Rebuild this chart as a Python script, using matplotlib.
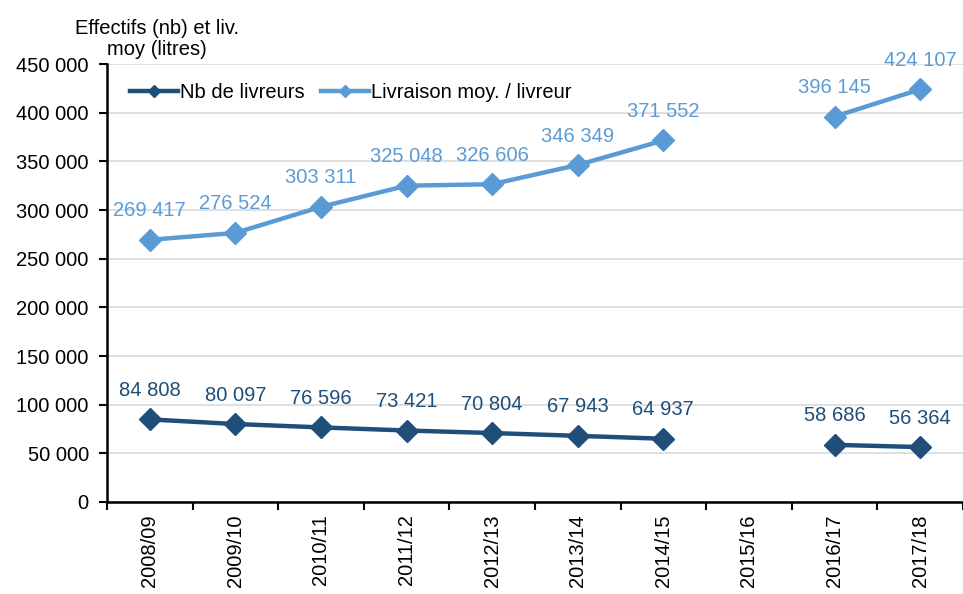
import matplotlib
matplotlib.use("Agg")
import matplotlib.pyplot as plt
import numpy as np
from matplotlib.ticker import FuncFormatter

plt.rcParams['font.family'] = ['Liberation Sans', 'DejaVu Sans']

categories = ["2008/09", "2009/10", "2010/11", "2011/12", "2012/13", "2013/14",
              "2014/15", "2015/16", "2016/17", "2017/18"]
nb_livreurs = [84808, 80097, 76596, 73421, 70804, 67943, 64937, np.nan, 58686, 56364]
livraison_moy = [269417, 276524, 303311, 325048, 326606, 346349, 371552, np.nan, 396145, 424107]

dark = "#1F4E79"
light = "#5B9BD5"
FS = 14.5

fig = plt.figure(figsize=(9.63, 5.94), dpi=100)
ax = fig.add_axes([0.111, 0.155, 0.889, 0.737])

x = np.arange(len(categories))
ax.plot(x, nb_livreurs, color=dark, lw=3.2, marker="D", ms=11, label="Nb de livreurs", zorder=3)
ax.plot(x, livraison_moy, color=light, lw=3.2, marker="D", ms=11, label="Livraison moy. / livreur", zorder=3)

fmt = lambda v: f"{int(v):,}".replace(",", " ")
for xi, v in zip(x, nb_livreurs):
    if not np.isnan(v):
        ax.annotate(fmt(v), (xi, v), xytext=(0, 14), textcoords="offset points",
                    ha="center", va="bottom", color=dark, fontsize=FS)
for xi, v in zip(x, livraison_moy):
    if not np.isnan(v):
        ax.annotate(fmt(v), (xi, v), xytext=(0, 14), textcoords="offset points",
                    ha="center", va="bottom", color=light, fontsize=FS)

ax.set_xlim(-0.5, len(categories) - 0.5)
ax.set_ylim(0, 450000)
ax.set_yticks(np.arange(0, 450001, 50000))
ax.yaxis.set_major_formatter(FuncFormatter(lambda v, p: fmt(v)))
ax.set_xticks(x)
ax.set_xticklabels(categories, rotation=90, fontsize=FS)
ax.set_xticks(np.arange(-0.5, len(categories), 1), minor=True)
ax.tick_params(axis="x", which="major", length=0, pad=9)
ax.tick_params(axis="x", which="minor", length=6, width=1.5, direction="out")
ax.tick_params(axis="y", labelsize=FS, length=6, width=1.5, direction="out", pad=7)
ax.grid(axis="y", color="#D9D9D9", lw=1.2, zorder=0)
ax.set_axisbelow(True)
for s in ["top", "right"]:
    ax.spines[s].set_visible(False)
for s in ["left", "bottom"]:
    ax.spines[s].set_linewidth(1.8)
    ax.spines[s].set_color("black")

ax.legend(loc="upper left", bbox_to_anchor=(0.01, 0.99), ncol=2, frameon=False,
          fontsize=FS, handlelength=2.4, handletextpad=0.1, columnspacing=0.8,
          borderaxespad=0.3, markerscale=0.6)

fig.text(0.163, 0.968, "Effectifs (nb) et liv.\nmoy (litres)", ha="center", va="top",
         fontsize=FS, linespacing=1.15)

fig.savefig("out.png", dpi=100)
